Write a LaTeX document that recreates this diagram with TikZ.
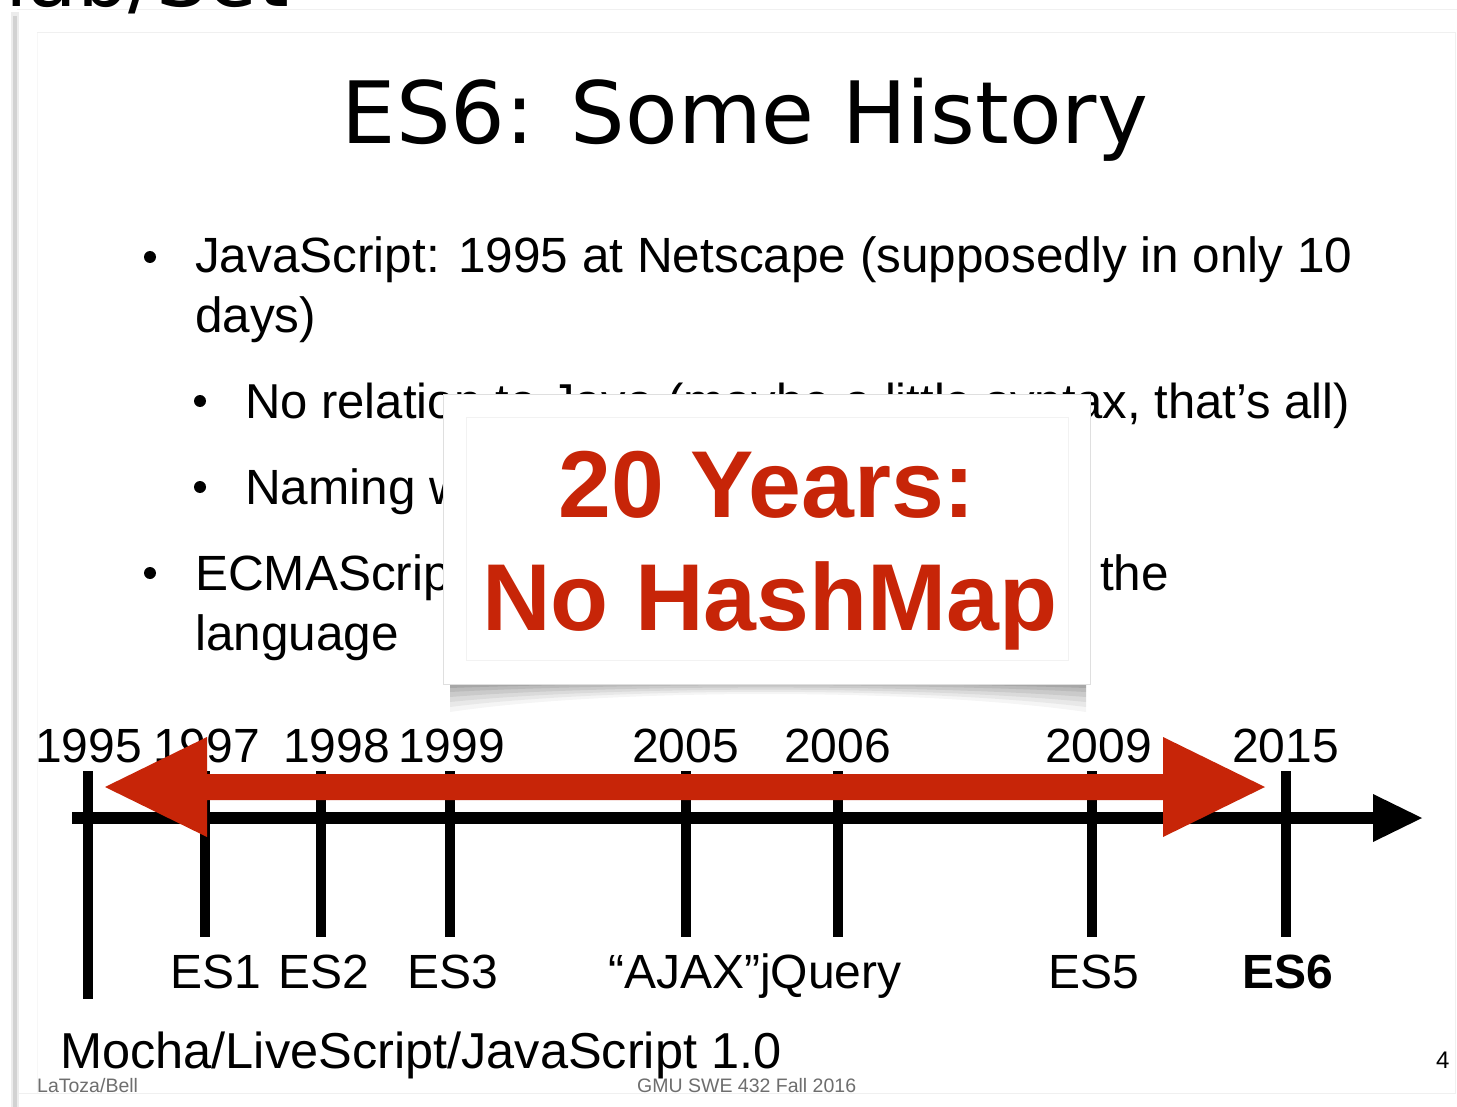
\documentclass[tikz,border=0pt]{standalone}
\usepackage{fontspec}
\setmainfont{Liberation Sans}
\newfontfamily\titlefont{DejaVu Sans}
\definecolor{slidered}{RGB}{199,37,8}
\definecolor{footgray}{RGB}{110,110,110}
\tikzset{
  txt/.style={inner sep=0pt, anchor=base west},
  body/.style={txt, font=\fontsize{49.5}{59}\selectfont},
  tlabel/.style={txt, font=\fontsize{48}{58}\selectfont},
  bulletdot/.style={circle, fill=black, inner sep=0pt, minimum size=12pt},
  foot/.style={txt, font=\fontsize{19.5}{22}\selectfont, text=footgray},
  tick/.style={line width=10pt},
  popred/.style={inner sep=0pt, anchor=base, text=slidered, font=\fontsize{95}{110}\selectfont\bfseries},
}
\begin{document}
\begin{tikzpicture}[x=1pt,y=-1pt]
\useasboundingbox (0,0) rectangle (1457,1107);
\clip (0,0) rectangle (1457,1107);
\fill[white] (0,0) rectangle (1457,1107);

% slide frame
\fill[gray!15] (11,12) rectangle (19,1107);
\fill[gray!35] (13,16) rectangle (17,1107);
\draw[gray!12, line width=1pt] (17,10) -- (1457,10);
\draw[gray!12, line width=1pt] (37,33) -- (1455,33) -- (1455,1093) -- (19,1093);
\draw[gray!6, line width=1pt] (37,33) -- (37,1093);

% previous slide title, cut off at the top
\node[txt, font=\titlefont\fontsize{81}{100}\selectfont] (prev) at (5,7) {lab/Set};

% title
\node[inner sep=0pt, anchor=base, font=\titlefont\fontsize{86}{100}\selectfont] (title) at (745,144) {ES6: Some History};

% bullets
\node[bulletdot] (b1) at (150,257) {};
\node[body] (l1) at (195,273) {JavaScript: 1995 at Netscape (supposedly in only 10};
\node[body] (l1b) at (195,333) {days)};
\node[bulletdot] (b2) at (200,401) {};
\node[body, font=\fontsize{49}{59}\selectfont] (l2) at (245,418) {No relation to Java (maybe a little syntax, that’s all)};
\node[bulletdot] (b3) at (200,487) {};
\node[body] (l3) at (245,504) {Naming was};
\node[bulletdot] (b4) at (150,573) {};
\node[body] (l4) at (195,590) {ECMAScript};
\node[body] (l4r) at (1100,590) {the};
\node[body] (l4b) at (195,650) {language};

% popup shadow
\foreach \d/\o in {32/0.04,27/0.05,22/0.06,17/0.07,12/0.08,8/0.10,4/0.12} {
  \fill[black, opacity=\o] (450,680) -- (1086,680) -- (1086,680+\d)
     .. controls (920,680+0.25*\d) and (610,680+0.25*\d) .. (450,680+\d) -- cycle;
}
% popup box
\node[draw=gray!25, fill=white, line width=1pt, minimum width=647pt, minimum height=290pt, inner sep=0pt] (popup) at (766.5,539) {};
\node[draw=gray!10, line width=1pt, minimum width=602pt, minimum height=243pt, inner sep=0pt] (popin) at (767,538.5) {};
\node[popred] (yrs) at (767,517) {20 Years:};
\node[popred] (nohm) at (770,630) {No HashMap};

% timeline
\coordinate (tstart) at (72,818);
\coordinate (tend) at (1378,818);
\draw[line width=12pt] (tstart) -- (tend);
\fill (1373,794) -- (1422,818) -- (1373,842) -- cycle;

\coordinate (t95) at (88,771);   \coordinate (t95b) at (88,999);
\coordinate (t97) at (205,771);  \coordinate (t97b) at (205,937);
\coordinate (t98) at (321,771);  \coordinate (t98b) at (321,937);
\coordinate (t99) at (450,771);  \coordinate (t99b) at (450,937);
\coordinate (t05) at (686,771);  \coordinate (t05b) at (686,937);
\coordinate (t06) at (838,771);  \coordinate (t06b) at (838,937);
\coordinate (t09) at (1092,771); \coordinate (t09b) at (1092,937);
\coordinate (t15) at (1286,771); \coordinate (t15b) at (1286,937);
\foreach \t in {95,97,98,99,05,06,09,15} { \draw[tick] (t\t) -- (t\t b); }

% year labels
\node[tlabel] (y95) at (35,762) {1995};
\node[tlabel] (y97) at (153,762) {1997};
\node[tlabel] (y98) at (283,762) {1998};
\node[tlabel] (y99) at (398,762) {1999};
\node[tlabel] (y05) at (632,762) {2005};
\node[tlabel] (y06) at (784,762) {2006};
\node[tlabel] (y09) at (1045,762) {2009};
\node[tlabel] (y15) at (1232,762) {2015};

% event labels
\node[tlabel] (es1) at (170,988) {ES1};
\node[tlabel] (es2) at (278,988) {ES2};
\node[tlabel] (es3) at (407,988) {ES3};
\node[tlabel] (ajax) at (608,988) {“AJAX”jQuery};
\node[tlabel] (es5) at (1048,988) {ES5};
\node[tlabel, font=\fontsize{48}{58}\selectfont\bfseries] (es6) at (1242,988) {ES6};
\node[txt, font=\fontsize{50.5}{60}\selectfont] (mocha) at (60,1068) {Mocha/LiveScript/JavaScript 1.0};

% red double arrow
\fill[slidered] (105,787) -- (207,737) -- (207,774) -- (1163,774) -- (1163,737) -- (1265,787)
   -- (1163,837) -- (1163,800) -- (207,800) -- (207,837) -- cycle;

% footer
\node[foot] (f1) at (37,1092) {LaToza/Bell};
\node[foot] (f2) at (637,1092) {GMU SWE 432 Fall 2016};
\node[txt, font=\fontsize{24}{28}\selectfont] (pg) at (1436,1068) {4};
\end{tikzpicture}
\end{document}
